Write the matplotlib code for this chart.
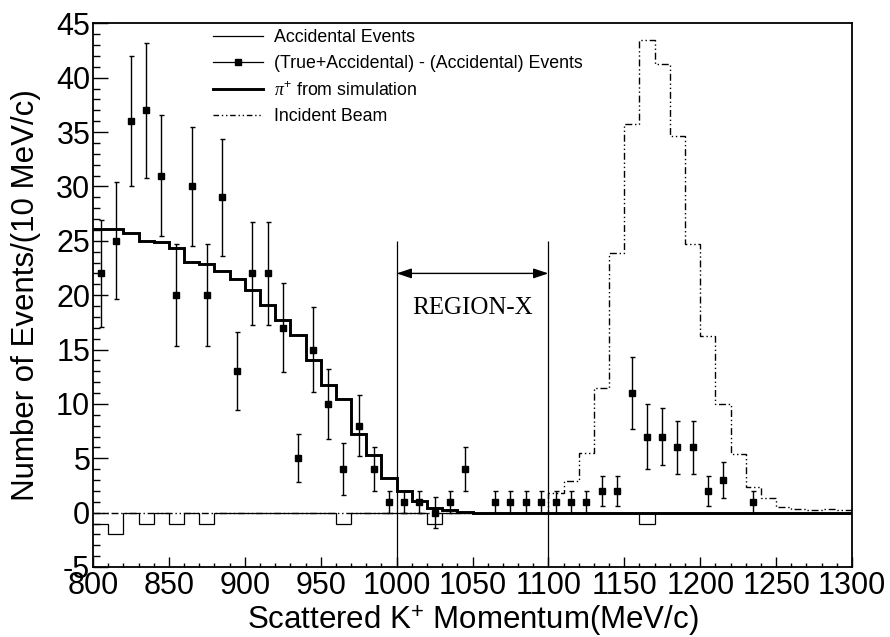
import numpy as np
import matplotlib
matplotlib.use('Agg')
import matplotlib.pyplot as plt
from matplotlib.lines import Line2D
from matplotlib.ticker import MultipleLocator

plt.rcParams['font.family'] = ['Liberation Sans', 'DejaVu Sans']
plt.rcParams['mathtext.fontset'] = 'custom'
plt.rcParams['mathtext.rm'] = 'Liberation Sans'
plt.rcParams['mathtext.it'] = 'Liberation Serif:italic'
plt.rcParams['mathtext.sf'] = 'Liberation Sans'
plt.rcParams['axes.unicode_minus'] = False

# ---- data (10 MeV/c bins from 800 to 1300) ----
bin_edges = np.arange(800, 1301, 10)

accidental = [-1, -2, 0, -1, 0, -1, 0, -1, 0, 0,
              0, 0, 0, 0, 0, 0, -1, 0, 0, 0,
              0, 0, -1, 0, 0, 0, 0, 0, 0, 0,
              0, 0, 0, 0, 0, 0, -1, 0, 0, 0,
              0, 0, 0, 0, 0, 0, 0, 0, 0, 0]

pion_sim = [26.1, 26.1, 25.7, 25.0, 24.85, 24.3, 23.05, 22.9, 22.2, 21.5,
            20.5, 19.1, 17.75, 16.3, 14.0, 11.7, 10.45, 7.2, 5.3, 3.2,
            2.0, 1.1, 0.45, 0.2, 0.1, 0, 0, 0, 0, 0,
            0, 0, 0, 0, 0, 0, 0, 0, 0, 0,
            0, 0, 0, 0, 0, 0, 0, 0, 0, 0]

incident_beam = [0, 0, 0, 0, 0, 0, 0, 0, 0, 0,
                 0, 0, 0, 0, 0, 0, 0, 0, 0, 0,
                 0, 0, 0, 0, 0, 0, 0, 0, 0, 0,
                 1.8, 2.9, 5.5, 11.5, 23.9, 35.7, 43.5, 41.3, 34.6, 24.7,
                 16.2, 9.95, 5.4, 2.4, 1.3, 0.55, 0.3, 0.2, 0.3, 0.2]

pt_x = [805, 815, 825, 835, 845, 855, 865, 875, 885, 895,
        905, 915, 925, 935, 945, 955, 965, 975, 985, 995,
        1005, 1015, 1025, 1035, 1045,
        1065, 1075, 1085, 1095, 1105, 1115, 1125, 1135, 1145, 1155,
        1165, 1175, 1185, 1195, 1205, 1215, 1235]
pt_y = [22, 25, 36, 37, 31, 20, 30, 20, 29, 13,
        22, 22, 17, 5, 15, 10, 4, 8, 4, 1,
        1, 1, 0, 1, 4,
        1, 1, 1, 1, 1, 1, 1, 2, 2, 11,
        7, 7, 6, 6, 2, 3, 1]
pt_err = [4.9, 5.4, 6.0, 6.2, 5.6, 4.7, 5.5, 4.7, 5.4, 3.6,
          4.7, 4.7, 4.1, 2.2, 3.9, 3.2, 2.4, 2.8, 2.0, 1.0,
          1.0, 1.0, 1.4, 1.0, 2.0,
          1.0, 1.0, 1.0, 1.0, 1.0, 1.0, 1.0, 1.4, 1.4, 3.3,
          3.0, 2.6, 2.45, 2.45, 1.4, 1.7, 1.0]

region_bounds = [1000, 1100]
region_label = 'REGION-X'

legend_labels = ['Accidental Events',
                 '(True+Accidental) - (Accidental) Events',
                 r'$\pi^{+}$ from simulation',
                 'Incident Beam']

# ---- figure ----
fig = plt.figure(figsize=(8.9, 6.37), dpi=100)
ax = fig.add_axes([93 / 890, 1 - 567 / 637, (852 - 93) / 890, (567 - 23.3) / 637])

beam_ls = (0, (5, 2, 1, 2, 1, 2))

ax.stairs(accidental, bin_edges, baseline=None, color='black', lw=0.9, zorder=2)
ax.stairs(incident_beam, bin_edges, baseline=None, color='black', lw=1.0,
          linestyle=beam_ls, zorder=2.2)
ax.stairs(pion_sim, bin_edges, baseline=None, color='black', lw=2.1, zorder=2.4)

ax.errorbar(pt_x, pt_y, yerr=pt_err, fmt='s', color='black', ms=4.8,
            elinewidth=1.0, capsize=1.8, capthick=1.0, zorder=3)

# Region-X marker
ax.vlines(region_bounds, -5, 25, color='black', lw=0.9, zorder=2)
ax.annotate('', xy=(region_bounds[0], 22), xytext=(region_bounds[1], 22),
            arrowprops=dict(arrowstyle='<|-|>,head_length=0.6,head_width=0.2',
                            color='black', lw=1.0, mutation_scale=15,
                            shrinkA=0, shrinkB=0))
ax.text(sum(region_bounds) / 2, 18.85, region_label, ha='center', va='center',
        fontsize=18, family=['Liberation Serif', 'DejaVu Serif'])

ax.set_xlim(800, 1300)
ax.set_ylim(-5, 45)
ax.xaxis.set_major_locator(MultipleLocator(50))
ax.xaxis.set_minor_locator(MultipleLocator(10))
ax.yaxis.set_major_locator(MultipleLocator(5))
ax.yaxis.set_minor_locator(MultipleLocator(1))

ax.tick_params(axis='both', which='both', direction='in', top=False, right=False,
               labelsize=22, color='black')
ax.tick_params(axis='x', which='major', length=7.2, width=1.0, pad=3)
ax.tick_params(axis='x', which='minor', length=3.2, width=1.0)
ax.tick_params(axis='y', which='major', length=10.8, width=1.0, pad=2)
ax.tick_params(axis='y', which='minor', length=5.0, width=1.0)

for s in ax.spines.values():
    s.set_linewidth(1.3)

ax.set_xlabel(r'Scattered K$^{+}$ Momentum(MeV/c)', fontsize=22.5)
ax.set_ylabel('Number of Events/(10 MeV/c)', fontsize=22.5)
ax.yaxis.set_label_coords(-0.068, 0.5)
ax.xaxis.set_label_coords(0.5, -0.066)

handles = [
    Line2D([], [], color='black', lw=0.9),
    Line2D([], [], color='black', lw=0.9, marker='s', ms=4.8),
    Line2D([], [], color='black', lw=2.1),
    Line2D([], [], color='black', lw=1.0, linestyle=(0, (4, 2, 1, 2, 1, 2))),
]
leg = ax.legend(handles, legend_labels, loc='upper left',
                bbox_to_anchor=(213 / 890, 1 - 29.5 / 637),
                bbox_transform=fig.transFigure, frameon=False, fontsize=12.8,
                handlelength=2.8, handletextpad=0.62, labelspacing=0.5,
                borderpad=0, borderaxespad=0)

fig.savefig('out.png', dpi=100)
